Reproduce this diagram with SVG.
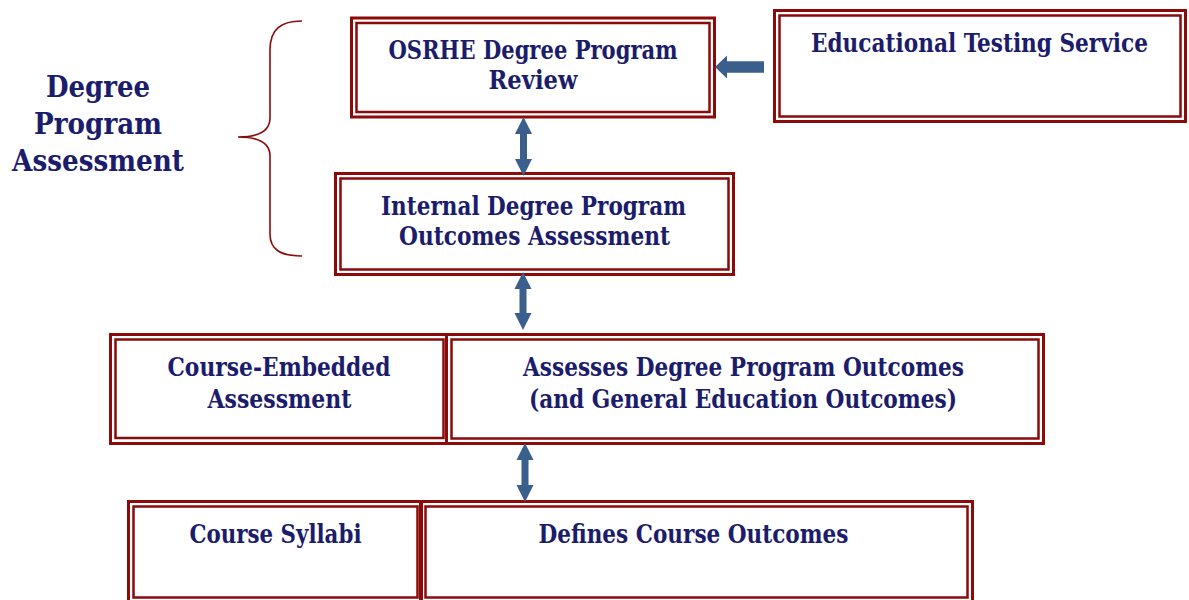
<svg xmlns="http://www.w3.org/2000/svg" width="1189" height="600" viewBox="0 0 1189 600">
<style>
.o{fill:none;stroke:#8b0a0a;stroke-width:3}
.i{fill:none;stroke:#8b0a0a;stroke-width:2.5}
.t{font-family:"DejaVu Serif","Liberation Serif",serif;font-stretch:condensed;font-weight:bold;font-size:26px;fill:#1c1c6c;text-anchor:middle}
.lbl{font-size:30px}
.arr{fill:#3b5f8d}
.brace{fill:none;stroke:#8b0a0a;stroke-width:1.6}
</style>
<rect width="1189" height="600" fill="#ffffff"/>
<g id="label-degree-program-assessment">
<text class="t lbl" x="98" y="97" textLength="104" lengthAdjust="spacingAndGlyphs">Degree</text>
<text class="t lbl" x="98" y="134" textLength="128" lengthAdjust="spacingAndGlyphs">Program</text>
<text class="t lbl" x="98" y="171" textLength="172" lengthAdjust="spacingAndGlyphs">Assessment</text>
<path class="brace" d="M302,21 C281,21 270,29 270,50 L270,118 C270,131 259,137 238,137 C259,137 270,143 270,156 L270,234 C270,250 281,256 302,256"/>
</g>
<g id="node-osrhe">
<rect class="o" x="351.5" y="18" width="363" height="99"/>
<rect class="i" x="356.5" y="23" width="353" height="89"/>
<text class="t" x="533" y="59" textLength="289" lengthAdjust="spacingAndGlyphs">OSRHE Degree Program</text>
<text class="t" x="533" y="89" textLength="89" lengthAdjust="spacingAndGlyphs">Review</text>
</g>
<g id="node-ets">
<rect class="o" x="774.5" y="10.5" width="411" height="111"/>
<rect class="i" x="779.5" y="15.5" width="401" height="101"/>
<text class="t" x="979.5" y="52" textLength="337" lengthAdjust="spacingAndGlyphs">Educational Testing Service</text>
</g>
<g id="node-internal">
<rect class="o" x="335.5" y="173.5" width="398" height="101"/>
<rect class="i" x="340.5" y="178.5" width="388" height="91"/>
<text class="t" x="533.5" y="215" textLength="305" lengthAdjust="spacingAndGlyphs">Internal Degree Program</text>
<text class="t" x="534.5" y="245" textLength="271" lengthAdjust="spacingAndGlyphs">Outcomes Assessment</text>
</g>
<g id="node-course-embedded">
<rect class="o" x="110.5" y="334.5" width="336" height="109"/>
<rect class="i" x="115.5" y="339.5" width="328" height="98.5"/>
<text class="t" x="279" y="376" textLength="223" lengthAdjust="spacingAndGlyphs">Course-Embedded</text>
<text class="t" x="279.5" y="408" textLength="144" lengthAdjust="spacingAndGlyphs">Assessment</text>
</g>
<g id="node-assesses">
<rect class="o" x="446.5" y="334.5" width="597" height="109"/>
<rect class="i" x="451.5" y="339.5" width="587" height="99"/>
<text class="t" x="743.5" y="376" textLength="441" lengthAdjust="spacingAndGlyphs">Assesses Degree Program Outcomes</text>
<text class="t" x="743" y="408" textLength="428" lengthAdjust="spacingAndGlyphs">(and General Education Outcomes)</text>
</g>
<g id="node-course-syllabi">
<rect class="o" x="128.5" y="501.5" width="293" height="105"/>
<rect class="i" x="133.5" y="506.5" width="284" height="91"/>
<text class="t" x="275.5" y="543" textLength="172" lengthAdjust="spacingAndGlyphs">Course Syllabi</text>
</g>
<g id="node-defines">
<rect class="o" x="420.5" y="501.5" width="552" height="105"/>
<rect class="i" x="425.5" y="506.5" width="542" height="91"/>
<text class="t" x="693.5" y="543" textLength="310" lengthAdjust="spacingAndGlyphs">Defines Course Outcomes</text>
</g>
<g id="connectors">
<polygon class="arr" points="715,67 727,55.5 727,61.2 764,61.2 764,72.8 727,72.8 727,78.5"/>
<polygon class="arr" points="523.5,117 532,134 527,134 527,159 532,159 523.5,176 515,159 520,159 520,134 515,134"/>
<polygon class="arr" points="523,272 531.5,289 526.5,289 526.5,313 531.5,313 523,330 514.5,313 519.5,313 519.5,289 514.5,289"/>
<polygon class="arr" points="525,443 533.5,460 528.5,460 528.5,485 533.5,485 525,502 516.5,485 521.5,485 521.5,460 516.5,460"/>
</g>
</svg>
